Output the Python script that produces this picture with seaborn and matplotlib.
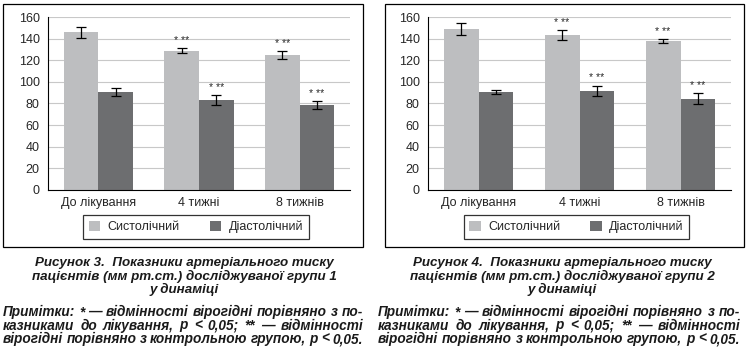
import pandas as pd
import matplotlib
matplotlib.use("Agg")
import matplotlib.pyplot as plt
import seaborn as sns
from matplotlib.patches import Rectangle

# data
categories = ["До лікування", "4 тижні", "8 тижнів"]
series_names = ["Систолічний", "Діастолічний"]

sys1 = [146, 129, 124.5]
sys1_err = [5, 2.3, 3.6]
dia1 = [90.5, 83, 78.5]
dia1_err = [4, 4.8, 3.7]

sys2 = [149, 143.5, 137.7]
sys2_err = [5.2, 4.5, 1.9]
dia2 = [90.5, 91.5, 84.3]
dia2_err = [1.8, 5, 5]

marks1 = ["", "* **", "* **"]
marks2 = ["", "* **", "* **"]

captions = [
    ["Рисунок 3.  Показники артеріального тиску",
     "пацієнтів (мм рт.ст.) досліджуваної групи 1",
     "у динаміці"],
    ["Рисунок 4.  Показники артеріального тиску",
     "пацієнтів (мм рт.ст.) досліджуваної групи 2",
     "у динаміці"],
]
notes = [
    "Примітки: * — відмінності вірогідні порівняно з по-",
    "казниками до лікування, p < 0,05; ** — відмінності",
    "вірогідні порівняно з контрольною групою, p < 0,05.",
]

light = "#bdbec0"
dark = "#6d6e70"

sns.set_style("white")
plt.rcParams["font.family"] = ["Liberation Sans", "DejaVu Sans"]

W, H = 752, 353
fig = plt.figure(figsize=(W / 100, H / 100), dpi=100)


def fx(px):
    return px / W


def fy(py):
    return 1 - py / H


def draw_panel(left_px, right_px, sys, sys_err, dia, dia_err, marks):
    top_px, bot_px = 17, 190
    ax = fig.add_axes([fx(left_px), fy(bot_px), fx(right_px - left_px), (bot_px - top_px) / H])
    df = pd.DataFrame({
        "cat": categories * 2,
        "val": sys + dia,
        "err": sys_err + dia_err,
        "series": [series_names[0]] * 3 + [series_names[1]] * 3,
    })
    sns.barplot(data=df, x="cat", y="val", hue="series", palette=[light, dark],
                width=0.69, errorbar=None, ax=ax, zorder=2, linewidth=0)
    for cont, errs in zip(ax.containers, [sys_err, dia_err]):
        for bar, e, m in zip(cont, errs, marks):
            cx = bar.get_x() + bar.get_width() / 2
            h = bar.get_height()
            ax.errorbar(cx, h, yerr=e, fmt="none", ecolor="black", elinewidth=0.9,
                        capsize=3.5, capthick=0.9, zorder=3)
            if m:
                ax.text(cx, h + e + 2.2, m, ha="center", va="bottom", fontsize=7.5)
    ax.set_ylim(0, 160)
    ax.set_xlim(-0.5, 2.5)
    ax.set_yticks(range(0, 161, 20))
    ax.yaxis.grid(True, color="#c8c8c8", lw=0.8, zorder=0)
    ax.set_axisbelow(True)
    ax.set_xticks([-0.5, 0.5, 1.5, 2.5])
    ax.set_xticklabels([])
    ax.set_xticks([0, 1, 2], minor=True)
    ax.set_xticklabels(categories, minor=True, fontsize=9)
    ax.tick_params(axis="x", which="major", direction="out", length=4, width=0.8, color="black")
    ax.tick_params(axis="x", which="minor", length=0, pad=5)
    ax.tick_params(axis="y", direction="out", length=4, width=0.8, color="black", labelsize=9, pad=2)
    ax.set_xlabel("")
    ax.set_ylabel("")
    for s in ["top", "right"]:
        ax.spines[s].set_visible(False)
    for s in ["left", "bottom"]:
        ax.spines[s].set_color("black")
        ax.spines[s].set_linewidth(0.8)
    ax.legend(loc="center", bbox_to_anchor=(0.49, -0.215), ncol=2, frameon=True,
              fancybox=False, edgecolor="black", fontsize=9, handlelength=0.9,
              handleheight=0.9, columnspacing=2.4, borderpad=0.45, handletextpad=0.6,
              borderaxespad=0)
    ax.get_legend().get_frame().set_linewidth(0.9)
    return ax


draw_panel(48, 350, sys1, sys1_err, dia1, dia1_err, marks1)
draw_panel(428, 731, sys2, sys2_err, dia2, dia2_err, marks2)

for x0, x1 in [(3, 363), (385, 744)]:
    fig.add_artist(Rectangle((fx(x0), fy(247)), fx(x1 - x0), (247 - 4) / H,
                             transform=fig.transFigure, fill=False, edgecolor="black", lw=0.9))

cap_kw = dict(fontsize=9.6, fontweight="bold", fontstyle="italic", color="#1a1a1a")
note_kw = dict(fontsize=9.8, fontweight="bold", fontstyle="italic", color="#1a1a1a")

for cap, cx in zip(captions, [184, 562]):
    for line, y in zip(cap, [263, 276.5, 289.5]):
        fig.text(fx(cx), fy(y), line, ha="center", va="center", **cap_kw)

renderer = fig.canvas.get_renderer()


def justify(line, x0, x1, y):
    words = line.split(" ")
    arts = [fig.text(0, fy(y), w, ha="left", va="center", **note_kw) for w in words]
    widths = [a.get_window_extent(renderer).width for a in arts]
    gap = (x1 - x0 - sum(widths)) / max(len(words) - 1, 1)
    x = x0
    for a, w in zip(arts, widths):
        a.set_x(fx(x))
        x += w + gap


for x0, x1 in [(3, 363), (378, 740)]:
    for line, y in zip(notes, [312, 325.5, 339]):
        justify(line, x0, x1, y)

fig.savefig("out.png", dpi=100)
